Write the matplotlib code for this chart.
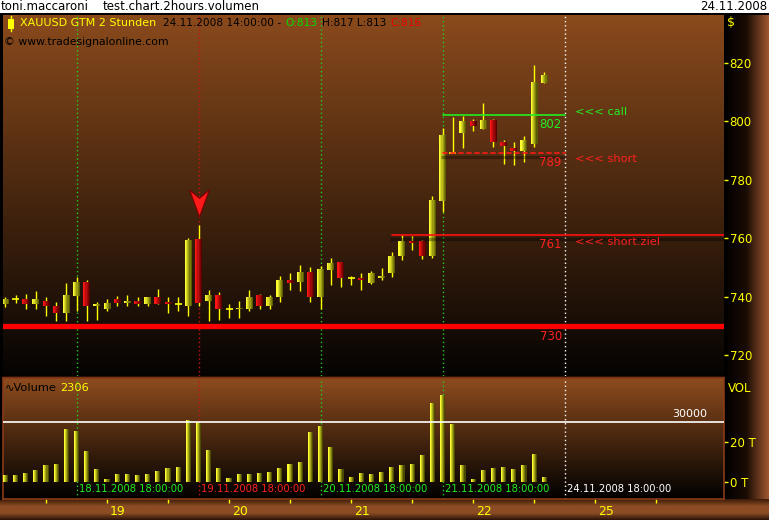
import numpy as np
import matplotlib
matplotlib.use("Agg")
import matplotlib.pyplot as plt
from matplotlib.colors import to_rgb
from matplotlib.patches import Rectangle
from matplotlib.path import Path

# 2 hour bars, XAUUSD, 18.11.2008 04:00 .. 24.11.2008 14:00
opens = [737.6, 739.0, 739.3, 737.3, 738.6, 736.9, 734.5, 740.3, 745.1, 736.9,
         735.9, 739.0, 737.9, 738.6, 737.6, 739.7, 738.3, 737.6, 736.7, 759.8,
         738.4, 740.7, 735.8, 735.6, 735.9, 740.7, 736.6, 740.0, 745.8, 745.1,
         748.5, 740.0, 749.2, 752.0, 746.5, 746.5, 744.8, 746.2, 748.1, 753.8,
         759.1, 759.1, 754.0, 772.8, 789.2, 796.0, 800.2, 797.4, 800.5, 793.0,
         790.9, 789.9, 792.3, 813.0]
closes = [739.3, 739.0, 737.3, 739.0, 736.7, 734.2, 740.7, 745.1, 736.6, 737.6,
          737.9, 737.9, 738.6, 737.6, 740.0, 737.3, 737.6, 737.6, 759.5, 737.9,
          740.7, 735.6, 735.8, 736.2, 740.0, 736.9, 740.0, 745.8, 744.8, 748.5,
          740.0, 749.5, 751.6, 746.2, 746.5, 745.5, 747.9, 747.2, 754.0, 759.1,
          758.5, 754.0, 773.2, 795.4, 789.2, 800.2, 798.5, 800.5, 793.0, 791.6,
          789.9, 793.7, 813.5, 816.0]
highs = [740.0, 740.7, 741.0, 742.0, 739.7, 738.3, 744.8, 746.8, 745.5, 738.0,
         739.3, 740.3, 740.7, 739.7, 740.0, 742.7, 739.7, 739.7, 760.1, 764.6,
         742.4, 741.7, 737.3, 738.6, 742.4, 741.0, 740.7, 747.2, 747.9, 750.9,
         750.2, 750.6, 753.3, 752.0, 747.2, 748.2, 748.9, 749.9, 755.4, 761.2,
         760.6, 759.5, 774.5, 797.8, 801.5, 801.9, 800.9, 806.3, 800.9, 793.7,
         793.0, 795.1, 819.3, 817.0]
lows = [736.4, 737.9, 735.7, 735.9, 733.5, 731.6, 731.6, 734.9, 731.8, 732.0,
        734.9, 736.6, 736.9, 736.6, 736.6, 737.3, 734.2, 735.2, 733.5, 736.7,
        731.6, 732.0, 732.5, 732.5, 734.9, 735.6, 735.9, 738.3, 742.4, 742.0,
        738.3, 735.6, 743.8, 743.4, 744.1, 742.4, 744.4, 745.5, 746.6, 752.6,
        756.1, 753.0, 753.3, 769.0, 789.0, 791.0, 796.7, 797.4, 791.3, 785.5,
        785.1, 786.2, 791.3, 813.0]
volumes = [3300, 3300, 4300, 5800, 8300, 8800, 26300, 25300, 15300, 6300,
           1300, 3800, 3800, 3300, 3800, 5300, 6800, 7300, 30800, 30000,
           15800, 6800, 1800, 3800, 3800, 4300, 4800, 6800, 8800, 9800,
           24800, 27800, 17300, 6300, 2300, 4300, 3800, 4800, 7300, 8300,
           8800, 13300, 39300, 43300, 28800, 8300, 1300, 5800, 6800, 7300,
           6300, 8300, 13800, 2306]

# drawn levels (bar index where each line starts / ends)
level_values = [802, 789, 761, 730]
level_from = [43, 43, 38, None]
level_to = [55, 55, None, None]
level_notes = ["<<< call", "<<< short", "<<< short.ziel", ""]

# 18:00 marker lines
mark_idx = [7, 19, 31, 43, 55]
mark_dates = ["18.11.2008 18:00:00", "19.11.2008 18:00:00", "20.11.2008 18:00:00",
              "21.11.2008 18:00:00", "24.11.2008 18:00:00"]

signal_bar = 19
day_idx = [10, 22, 34, 46, 58]
day_labels = ["19", "20", "21", "22", "25"]
price_ticks = [720, 740, 760, 780, 800, 820]
vol_ticks = [0, 20000]
vol_tick_labels = ["0 T", "20 T"]
vol_ref = 30000

YEL = "#FFFF00"
GRN = "#22EE22"
RED = "#FF2020"
W, H = 769, 520

plt.rcParams["font.family"] = ["DejaVu Sans"]
plt.rcParams["font.size"] = 8

fig = plt.figure(figsize=(W / 100, H / 100), dpi=100)
fig.patch.set_facecolor("white")


def fbox(x0, y0, x1, y1):
    return [x0 / W, 1 - y1 / H, (x1 - x0) / W, (y1 - y0) / H]


def ramp(stops, n=256):
    cols = np.array([to_rgb(c) for c in stops])
    pos = np.linspace(0, 1, len(stops))
    t = np.linspace(0, 1, n)
    return np.stack([np.interp(t, pos, cols[:, k]) for k in range(3)], axis=-1)


# background, gradients in pixel space
bg = fig.add_axes([0, 0, 1, 1])
bg.set_xlim(0, W)
bg.set_ylim(H, 0)
bg.axis("off")
bg.imshow(ramp(["#8A4A1C", "#050302"])[:, None, :], extent=(3, 724, 376, 15), aspect="auto")
bg.imshow(ramp(["#8E4C1E", "#000000"])[:, None, :], extent=(3, 724, 499, 378), aspect="auto")
bg.imshow(ramp(["#000000", "#1a0c04", "#A0582F"])[None, :, :], extent=(724, W, 500, 15), aspect="auto")
bg.imshow(ramp(["#3a1a08", "#8C4C24", "#8C4C24", "#2a1206"])[:, None, :], extent=(0, W, H, 499), aspect="auto")
bg.add_patch(Rectangle((0, 13), W, 2, color="black", lw=0))
bg.add_patch(Rectangle((0, 13), 3, 487, color="black", lw=0))
bg.add_patch(Rectangle((3, 376), 721, 2, color="#2a1206", lw=0))
# small candle icon in header
bg.plot([11, 11], [16, 31], color=YEL, lw=1)
bg.add_patch(Rectangle((8, 18.5), 6, 10, color=YEL, lw=0))

ax = fig.add_axes(fbox(3, 15, 724, 376), facecolor="none")
axv = fig.add_axes(fbox(3, 378, 724, 499), facecolor="none")

x = np.arange(len(opens))
o, c, h, l = map(np.array, (opens, closes, highs, lows))
vol = np.array(volumes)
xlim = (-0.23, 70.67)
for a in (ax, axv):
    a.set_xlim(*xlim)
ax.set_ylim(712.8, 836.4)
axv.set_ylim(-8650, 51850)


def grad_bars(a, xs, bottoms, heights, width, c0, c1, n=6, z=3):
    cols = ramp([c0, c1], n)
    sw = width / n
    for k in range(n):
        off = -width / 2 + (k + 0.5) * sw
        a.bar(xs + off, heights, bottom=bottoms, width=sw * 1.08,
              color=cols[k], linewidth=0, zorder=z)


# candles
bw = 0.68
ax.vlines(x, l, h, color=YEL, lw=1.0, zorder=2)
up = (c - o) > 0.3
dn = (o - c) > 0.3
dj = ~(up | dn)
grad_bars(ax, x[up], o[up], (c - o)[up], bw, "#FFFF30", "#5a5a00")
grad_bars(ax, x[dn], c[dn], (o - c)[dn], bw, "#FF1515", "#5a0000")
ax.hlines(o[dj], x[dj] - bw / 2, x[dj] + bw / 2, color=YEL, lw=1.2, zorder=3)

# volume bars
grad_bars(axv, x, np.zeros(len(x)), vol, 0.5, "#FFFF30", "#4a4a00", n=5)
axv.axhline(vol_ref, color="white", lw=1.2, zorder=4)
axv.annotate(f"{vol_ref}", xy=(0.976, vol_ref), xycoords=("axes fraction", "data"),
             xytext=(0, 2), textcoords="offset points", ha="right", va="bottom",
             color="white", fontsize=8)

# 18:00 markers
mark_line_cols = ["#22CC22", "#CC1111", "#22CC22", "#22CC22", "#FFFFFF"]
mark_text_cols = [GRN, RED, GRN, GRN, "#FFFFFF"]
for i, d, lc, tc in zip(mark_idx, mark_dates, mark_line_cols, mark_text_cols):
    for a in (ax, axv):
        a.axvline(i, color=lc, lw=1.0, ls=(0, (1, 2)), zorder=1)
    axv.annotate(d, xy=(i, 0.085), xycoords=("data", "axes fraction"),
                 xytext=(1.5, 0), textcoords="offset points", ha="left", va="center",
                 color=tc, fontsize=7.2)

# levels
lv_cols = [GRN, "#FF1A1A", "#FF1010", "#FF0000"]
lv_text = [GRN, RED, RED, RED]
lv_lw = [1.2, 1.2, 1.2, 3.8]
lv_ls = ["-", (0, (2.4, 2.4)), "-", "-"]
lv_shadow = [False, True, True, False]
note_dy = [2.6, -4.0, -4.6, 0]
for k, v in enumerate(level_values):
    x0 = xlim[0] if level_from[k] is None else level_from[k]
    x1 = xlim[1] if level_to[k] is None else level_to[k]
    if lv_shadow[k]:
        ax.hlines(v - 1.2, x0 - 0.2, x1, color="black", alpha=0.35, lw=2.4, zorder=4)
    ax.hlines(v, x0, x1, color=lv_cols[k], lw=lv_lw[k], ls=lv_ls[k], zorder=5,
              capstyle="round")
    ax.annotate(f"{v}", xy=(55, v), xytext=(-2, -1.5 - lv_lw[k] / 2),
                textcoords="offset points", ha="right", va="top",
                color=lv_text[k], fontsize=8.5, zorder=6)
    if level_notes[k]:
        ax.annotate(level_notes[k], xy=(56, v), xytext=(0, note_dy[k]),
                    textcoords="offset points", ha="left", va="center",
                    color=lv_text[k], fontsize=8.2, zorder=6)

# signal arrow above the big bar
arrow = Path([(0, -13), (-9.5, 13), (0, 5), (9.5, 13), (0, -13)],
             [Path.MOVETO, Path.LINETO, Path.LINETO, Path.LINETO, Path.CLOSEPOLY])
ax.plot(signal_bar, highs[signal_bar] + 7.5, marker=arrow, ms=19.5,
        color="#FF1A1A", mec="#7a0000", mew=0.8, zorder=6)

# axes styling
for s in ax.spines.values():
    s.set_visible(False)
for s in axv.spines.values():
    s.set_color("#8a3a18")
    s.set_linewidth(1.2)
ax.set_yticks(price_ticks)
ax.set_yticklabels([str(t) for t in price_ticks])
ax.tick_params(axis="y", left=False, labelleft=False, right=True, labelright=True,
               colors=YEL, length=3, width=1, pad=1, labelsize=8.5)
ax.tick_params(axis="x", bottom=False, labelbottom=False)
axv.set_yticks(vol_ticks)
axv.set_yticklabels(vol_tick_labels)
axv.tick_params(axis="y", left=False, labelleft=False, right=True, labelright=True,
                colors=YEL, length=3, width=1, pad=1, labelsize=8.5)
axv.set_xticks(np.arange(4, 65, 6))
axv.tick_params(axis="x", direction="out", colors=YEL, length=3, width=1,
                labelbottom=False)
for i, lab in zip(day_idx, day_labels):
    axv.annotate(lab, xy=(i, 0), xycoords=("data", "axes fraction"),
                 xytext=(2, -9), textcoords="offset points", ha="left",
                 va="center", color=YEL, fontsize=9)

ax.text(1.004, 0.978, "$", transform=ax.transAxes, color=YEL, fontsize=9,
        ha="left", va="center")
axv.text(1.006, 0.917, "VOL", transform=axv.transAxes, color=YEL, fontsize=8.5,
         ha="left", va="center")

# header line of the price panel
t = ax.text(0.0236, 0.978, "XAUUSD GTM 2 Stunden", transform=ax.transAxes,
            color=YEL, fontsize=8, ha="left", va="center")
parts = [("24.11.2008 14:00:00 -", "black"), (f"O:{opens[-1]:.0f}", "#00DD00"),
         (f"H:{highs[-1]:.0f} L:{lows[-1]:.0f}", "black"), (f"C:{closes[-1]:.0f}", "#EE0000")]
gaps = [5, 3, 3, 3]
for (s, col), g in zip(parts, gaps):
    t = ax.annotate(s, xy=(1, 0), xycoords=t, xytext=(g, 0),
                    textcoords="offset points", ha="left", va="bottom",
                    color=col, fontsize=7.6)
ax.text(0.001, 0.925, "\u00a9 www.tradesignalonline.com", transform=ax.transAxes,
        color="black", fontsize=7.8, ha="left", va="center")

t = axv.text(0.002, 0.917, "\u223fVolume", transform=axv.transAxes, color="black",
             fontsize=8.2, ha="left", va="center")
axv.annotate(f"{volumes[-1]}", xy=(1, 0), xycoords=t, xytext=(3, 0),
             textcoords="offset points", ha="left", va="bottom",
             color=YEL, fontsize=8.2)

# top caption strip
fig.text(1 / W, 1 - 7 / H, "toni.maccaroni", fontsize=8.5, va="center", ha="left")
fig.text(103 / W, 1 - 7 / H, "test.chart.2hours.volumen", fontsize=8.5, va="center", ha="left")
fig.text(767 / W, 1 - 7 / H, "24.11.2008", fontsize=8.5, va="center", ha="right")

fig.savefig("out.png", dpi=100)
